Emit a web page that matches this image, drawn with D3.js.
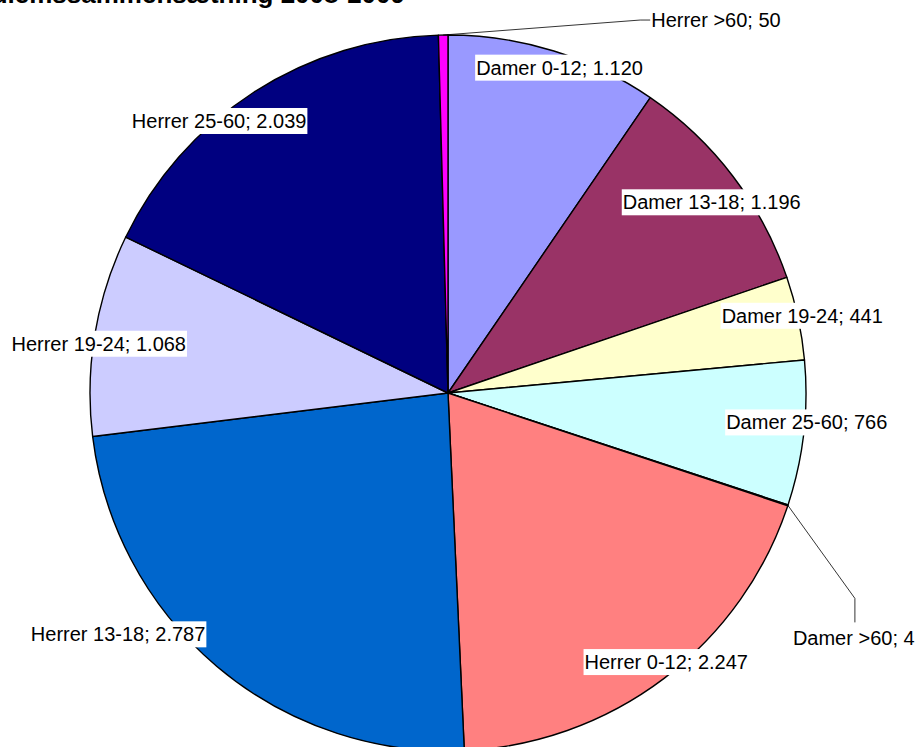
<!DOCTYPE html>
<html>
<head>
<meta charset="utf-8">
<script src="https://cdn.jsdelivr.net/npm/d3@7"></script>
<style>
  body { margin: 0; background: #fff; }
  svg { display: block; font-family: Arial, "Liberation Sans", sans-serif; }
</style>
</head>
<body>
<svg id="dessin" width="918" height="747"></svg>
<script>
// data
let categories = ["Damer 0-12", "Damer 13-18", "Damer 19-24", "Damer 25-60", "Damer >60",
                  "Herrer 0-12", "Herrer 13-18", "Herrer 19-24", "Herrer 25-60", "Herrer >60"];
let values = [1120, 1196, 441, 766, 4, 2247, 2787, 1068, 2039, 50];
let couleurs = ["#9999FF", "#993366", "#FFFFCC", "#CCFFFF", "#660066",
                "#FF8080", "#0066CC", "#CCCCFF", "#000080", "#FF00FF"];
let titre = "Medlemssammensætning 2008-2009";

let data_pie = categories.map((c, i) => ({ nom: c, valeur: values[i], couleur: couleurs[i] }));

const cx = 448, cy = 393, rayon = 358, rayonLabel = 350;
const fmt = v => d3.format(",")(v).replace(/,/g, ".");

// small moves where excel pushed the label
let decalage = {
  "Damer 0-12": [8, 9], "Damer 13-18": [-15, 21], "Damer 19-24": [12, -4], "Damer 25-60": [11, -10],
  "Herrer 0-12": [7, -10], "Herrer 13-18": [-104, -26], "Herrer 19-24": [-4, 8], "Herrer 25-60": [-39, 22]
};

const svg = d3.select("#dessin");

svg.append("text")
    .attr("x", 405).attr("y", 3)
    .attr("text-anchor", "end")
    .style("font-weight", "bold").style("font-size", "26px")
    .text(titre);

const pie = d3.pie().sort(null).value(d => d.valeur);
const arc = d3.arc().innerRadius(0).outerRadius(rayon);
const arcLabel = d3.arc().innerRadius(rayonLabel).outerRadius(rayonLabel);
const arcBord = d3.arc().innerRadius(rayon).outerRadius(rayon);

const g = svg.append("g").attr("transform", `translate(${cx},${cy})`);
const parts = pie(data_pie);

g.selectAll("path")
    .data(parts)
    .enter()
    .append("path")
    .attr("d", arc)
    .style("fill", d => d.data.couleur)
    .style("stroke", "#000")
    .style("stroke-width", 1.4)
    .style("stroke-linejoin", "round");

// labels inside / on the edge
const petits = parts.filter(d => d.data.valeur < 100);
const grands = parts.filter(d => d.data.valeur >= 100);

grands.forEach(d => {
  let [x, y] = arcLabel.centroid(d);
  let n = decalage[d.data.nom] || [0, 0];
  x += n[0]; y += n[1];
  let lab = g.append("g");
  let t = lab.append("text")
      .attr("x", x).attr("y", y + 7)
      .attr("text-anchor", "middle")
      .style("font-size", "20px")
      .text(d.data.nom + "; " + fmt(d.data.valeur));
  let b = t.node().getBBox();
  lab.insert("rect", "text")
      .attr("x", b.x - 1).attr("y", y - 13)
      .attr("width", b.width + 2).attr("height", 26)
      .style("fill", "#fff");
});

// callouts with leader lines for the tiny slices
let callouts = {
  "Herrer >60": { coude: [197, -15], fin: [207, -15], texte: [208, -15] },
  "Damer >60": { coude: [67, 93], fin: [67, 117], texte: [5, 133] }
};

petits.forEach(d => {
  let [px, py] = arcBord.centroid(d);
  let c = callouts[d.data.nom];
  g.append("polyline")
      .attr("points", [[px, py], [px + c.coude[0], py + c.coude[1]], [px + c.fin[0], py + c.fin[1]]].map(p => p.join(",")).join(" "))
      .style("fill", "none").style("stroke", "#000").style("stroke-width", 0.8);
  g.append("text")
      .attr("x", px + c.texte[0]).attr("y", py + c.texte[1] + 7)
      .style("font-size", "20px")
      .text(d.data.nom + "; " + fmt(d.data.valeur));
});
</script>
</body>
</html>
